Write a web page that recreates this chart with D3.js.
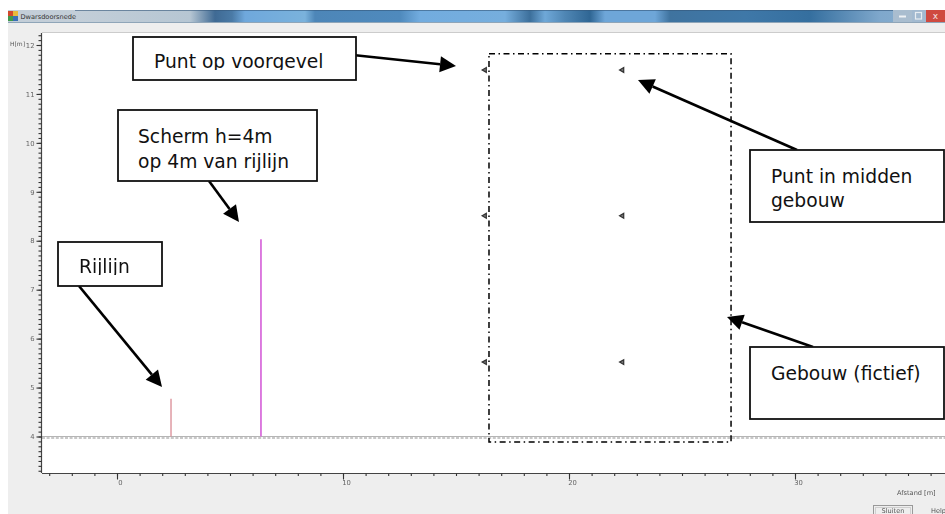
<!DOCTYPE html>
<html>
<head>
<meta charset="utf-8">
<script src="https://cdn.jsdelivr.net/npm/d3@7"></script>
<style>
html, body { margin: 0; padding: 0; background: #fff; overflow: hidden; }
svg { display: block; }
.chrome { font-family: "DejaVu Sans", sans-serif; fill: #555; }
.note { font-family: "DejaVu Sans", sans-serif; font-size: 18.7px; fill: #111; }
</style>
</head>
<body>
<div id="chart"></div>
<script>
const width = 945, height = 514

// values
const xTicks = [0, 10, 20, 30]
const xMinor = d3.range(-3, 37)
const yTicks = [4, 5, 6, 7, 8, 9, 10, 11, 12]
const yMinor = d3.range(33, 123).map(d => d / 10)

const groundLevel = 4

const lineNames = ['Rijlijn', 'Scherm']
const lineX = [2.39, 6.37]
const lineTop = [4.77, 8.03]
const lineColors = ['#d98a94', '#d96fdc']

const pointX = [16.28, 22.36]
const pointY = [11.49, 8.51, 5.52]

const buildingX = [16.46, 27.17]
const buildingY = [3.89, 11.82]

const x = d3.scaleLinear().domain([0, 30]).range([117, 795])
const y = d3.scaleLinear().domain([4, 12]).range([436.5, 45])

const plotLeft = 42, plotTop = 33, plotBottom = 473

const svg = d3.select('#chart').append('svg')
    .attr('width', width)
    .attr('height', height)

const defs = svg.append('defs')

const grad = defs.append('linearGradient').attr('id', 'titlebar')
const gradStops = [
    [8, '#c3ced8'], [75, '#c3ced8'], [190, '#b6c6d3'], [215, '#3f6a94'], [232, '#4a7aa6'],
    [245, '#6fa8dc'], [305, '#7ab2dc'], [315, '#4d86b8'], [400, '#4f8abd'], [420, '#72acdf'],
    [505, '#76aedd'], [530, '#3c6f9b'], [545, '#6fa8d8'], [565, '#4f86b4'], [590, '#2f6694'],
    [605, '#6ea6d8'], [655, '#6ea6d8'], [670, '#3f739f'], [745, '#3f78a8'], [810, '#356f9f'],
    [880, '#7fa8cc'], [945, '#8db0cf']
]
gradStops.forEach(s => grad.append('stop').attr('offset', (s[0] - 8) / (width - 8)).attr('stop-color', s[1]))

// window frame
svg.append('rect').attr('x', 8).attr('y', 10).attr('width', width - 8).attr('height', height - 10).attr('fill', '#eeeeee')
svg.append('rect').attr('x', 8).attr('y', 10).attr('width', width - 8).attr('height', 12).attr('fill', 'url(#titlebar)')
svg.append('rect').attr('x', 75).attr('y', 10).attr('width', width - 75).attr('height', 1).attr('fill', '#33567a').attr('opacity', 0.6)
svg.append('rect').attr('x', 8).attr('y', 22).attr('width', width - 8).attr('height', 1).attr('fill', '#8fa5b8')
svg.append('rect').attr('x', plotLeft).attr('y', plotTop).attr('width', width - plotLeft).attr('height', plotBottom - plotTop).attr('fill', '#fff')
svg.append('rect').attr('x', plotLeft).attr('y', plotTop - 1).attr('width', width - plotLeft).attr('height', 1).attr('fill', '#cccccc')

// title bar
const icon = svg.append('g')
const iconCells = [[8, 11, '#d2492c'], [13, 11, '#e8b93a'], [8, 16, '#3f9a4b'], [13, 16, '#3a6fb5']]
icon.selectAll('rect').data(iconCells).enter().append('rect')
    .attr('x', d => d[0]).attr('y', d => d[1]).attr('width', 5).attr('height', 5).attr('fill', d => d[2])
svg.append('text').attr('class', 'chrome').attr('x', 20.5).attr('y', 19).attr('font-size', 6.6).style('fill', '#333').text('Dwarsdoorsnede')

svg.append('rect').attr('x', 893).attr('y', 10).attr('width', 19).attr('height', 12).attr('fill', '#a9bdcf')
svg.append('rect').attr('x', 912).attr('y', 10).attr('width', 14).attr('height', 12).attr('fill', '#a3bad0')
svg.append('rect').attr('x', 926).attr('y', 10).attr('width', 19).attr('height', 12).attr('fill', '#cf4a40')
svg.append('rect').attr('x', 899).attr('y', 15.5).attr('width', 7).attr('height', 2).attr('fill', '#eef2f5')
svg.append('rect').attr('x', 915.5).attr('y', 12.5).attr('width', 6).attr('height', 6.5).attr('fill', 'none').attr('stroke', '#e8edf1').attr('stroke-width', 1.2)
svg.append('text').attr('class', 'chrome').attr('x', 935.5).attr('y', 19).attr('text-anchor', 'middle').attr('font-size', 9).style('fill', '#f3e6e4').text('x')

// ground line, hatch under it
svg.append('line').attr('x1', plotLeft).attr('x2', width).attr('y1', y(groundLevel)).attr('y2', y(groundLevel))
    .attr('stroke', '#b5b5b5').attr('stroke-width', 1)
svg.append('line').attr('x1', plotLeft).attr('x2', width).attr('y1', y(groundLevel) + 1.5).attr('y2', y(groundLevel) + 1.5)
    .attr('stroke', '#c8c8c8').attr('stroke-width', 1.8).attr('stroke-dasharray', '3 1.6')

// axes
const axes = svg.append('g').style('filter', 'blur(0.35px)')

const yMinorAxis = d3.axisLeft(y).tickValues(yMinor).tickSize(3).tickFormat('')
const yAxis = d3.axisLeft(y).tickValues(yTicks).tickSize(5).tickPadding(2).tickFormat(d3.format('d'))
const xMinorAxis = d3.axisBottom(x).tickValues(xMinor).tickSize(2.5).tickFormat('')
const xAxis = d3.axisBottom(x).tickValues(xTicks).tickSize(6).tickPadding(1).tickFormat(d3.format('d'))

axes.append('g').attr('transform', `translate(${plotLeft - 0.5},0)`).call(yMinorAxis)
    .call(g => g.select('.domain').attr('d', `M0,${plotTop}V${plotBottom}`))
axes.append('g').attr('transform', `translate(${plotLeft - 0.5},0)`).call(yAxis)
    .call(g => g.select('.domain').remove())
axes.append('g').attr('transform', `translate(0,${plotBottom + 0.5})`).call(xMinorAxis)
    .call(g => g.select('.domain').attr('d', `M${plotLeft},0H${width}`))
axes.append('g').attr('transform', `translate(0,${plotBottom + 0.5})`).call(xAxis)
    .call(g => g.select('.domain').remove())

axes.selectAll('.tick line').attr('stroke', '#333').attr('stroke-width', 1.1)
axes.selectAll('.domain').attr('stroke', '#444').attr('stroke-width', 1.2)
axes.selectAll('.tick text').attr('class', 'chrome').attr('font-size', 6.8).attr('font-family', '"DejaVu Sans", sans-serif').style('fill', '#666')
axes.selectAll('.tick text').filter(function () { return this.getAttribute('dy') === '0.71em' }).attr('dx', 3)

axes.append('text').attr('class', 'chrome').attr('x', 10).attr('y', 46).attr('font-size', 6).text('H[m]')
axes.append('text').attr('class', 'chrome').attr('x', 897).attr('y', 495).attr('font-size', 6.6).text('Afstand [m]')

axes.append('rect').attr('x', 873.5).attr('y', 505.5).attr('width', 39).attr('height', 12).attr('fill', '#eee').attr('stroke', '#999')
axes.append('rect').attr('x', 875.5).attr('y', 507.5).attr('width', 35).attr('height', 10).attr('fill', 'none').attr('stroke', '#888').attr('stroke-width', 0.6).attr('stroke-dasharray', '1 1')
axes.append('text').attr('class', 'chrome').attr('x', 893).attr('y', 513).attr('text-anchor', 'middle').attr('font-size', 6.6).text('Sluiten')
axes.append('text').attr('class', 'chrome').attr('x', 931).attr('y', 513).attr('font-size', 6.6).text('Help')

// rail line and screen
svg.selectAll('.upright')
    .data(lineNames)
    .enter().append('line')
    .attr('class', 'upright')
    .attr('x1', (d, i) => x(lineX[i]))
    .attr('x2', (d, i) => x(lineX[i]))
    .attr('y1', y(groundLevel))
    .attr('y2', (d, i) => y(lineTop[i]))
    .attr('stroke', (d, i) => lineColors[i])
    .attr('stroke-width', (d, i) => i === 0 ? 1.3 : 1.8)

// building outline
svg.append('rect')
    .attr('x', x(buildingX[0]))
    .attr('y', y(buildingY[1]))
    .attr('width', x(buildingX[1]) - x(buildingX[0]))
    .attr('height', y(buildingY[0]) - y(buildingY[1]))
    .attr('fill', 'none')
    .attr('stroke', '#000')
    .attr('stroke-width', 1.5)
    .attr('stroke-dasharray', '6 3.5 1.5 3.5')

// receiver points
const points = d3.cross(pointX, pointY)
svg.selectAll('.point')
    .data(points)
    .enter().append('path')
    .attr('class', 'point')
    .attr('d', d3.symbol(d3.symbolTriangle, 10))
    .attr('transform', d => `translate(${x(d[0])},${y(d[1])}) rotate(-90)`)
    .attr('fill', '#777')
    .attr('stroke', '#333')
    .attr('stroke-width', 1.2)

// callouts
function arrow(x1, y1, x2, y2) {
    const a = Math.atan2(y2 - y1, x2 - x1)
    const len = 16, half = 8
    const bx = x2 - len * Math.cos(a), by = y2 - len * Math.sin(a)
    svg.append('line').attr('x1', x1).attr('y1', y1).attr('x2', bx).attr('y2', by)
        .attr('stroke', '#000').attr('stroke-width', 2.6)
    svg.append('polygon')
        .attr('points', [
            [x2, y2],
            [bx + half * Math.sin(a), by - half * Math.cos(a)],
            [bx - half * Math.sin(a), by + half * Math.cos(a)]
        ].join(' '))
        .attr('fill', '#000')
}

function box(id, x0, y0, x1, y1, lines, tx, ty, clipY) {
    svg.append('rect').attr('x', x0).attr('y', y0).attr('width', x1 - x0).attr('height', y1 - y0)
        .attr('fill', '#fff').attr('stroke', '#111').attr('stroke-width', 1.8)
    defs.append('clipPath').attr('id', id).append('rect')
        .attr('x', x0).attr('y', y0).attr('width', x1 - x0).attr('height', clipY - y0)
    const t = svg.append('g').attr('clip-path', `url(#${id})`)
    lines.forEach((s, i) => {
        t.append('text').attr('class', 'note').attr('x', tx).attr('y', ty[i]).text(s)
    })
}

arrow(353, 55, 456, 66)
arrow(209, 181, 239, 222)
arrow(79, 286, 162, 387)
arrow(797, 150, 638, 80)
arrow(813, 347, 727, 317)

box('c1', 133, 37, 356, 80, ['Punt op voorgevel'], 154, [68], 70)
box('c2', 118, 110, 317, 181, ['Scherm h=4m', 'op 4m van rijlijn'], 138, [143, 168], 180)
box('c3', 58, 242, 162, 286, ['Rijlijn'], 79, [273], 275)
box('c4', 750, 150, 944, 222, ['Punt in midden', 'gebouw'], 771, [183, 207], 221)
box('c5', 750, 347, 944, 419, ['Gebouw (fictief)'], 771, [380], 418)
</script>
</body>
</html>
